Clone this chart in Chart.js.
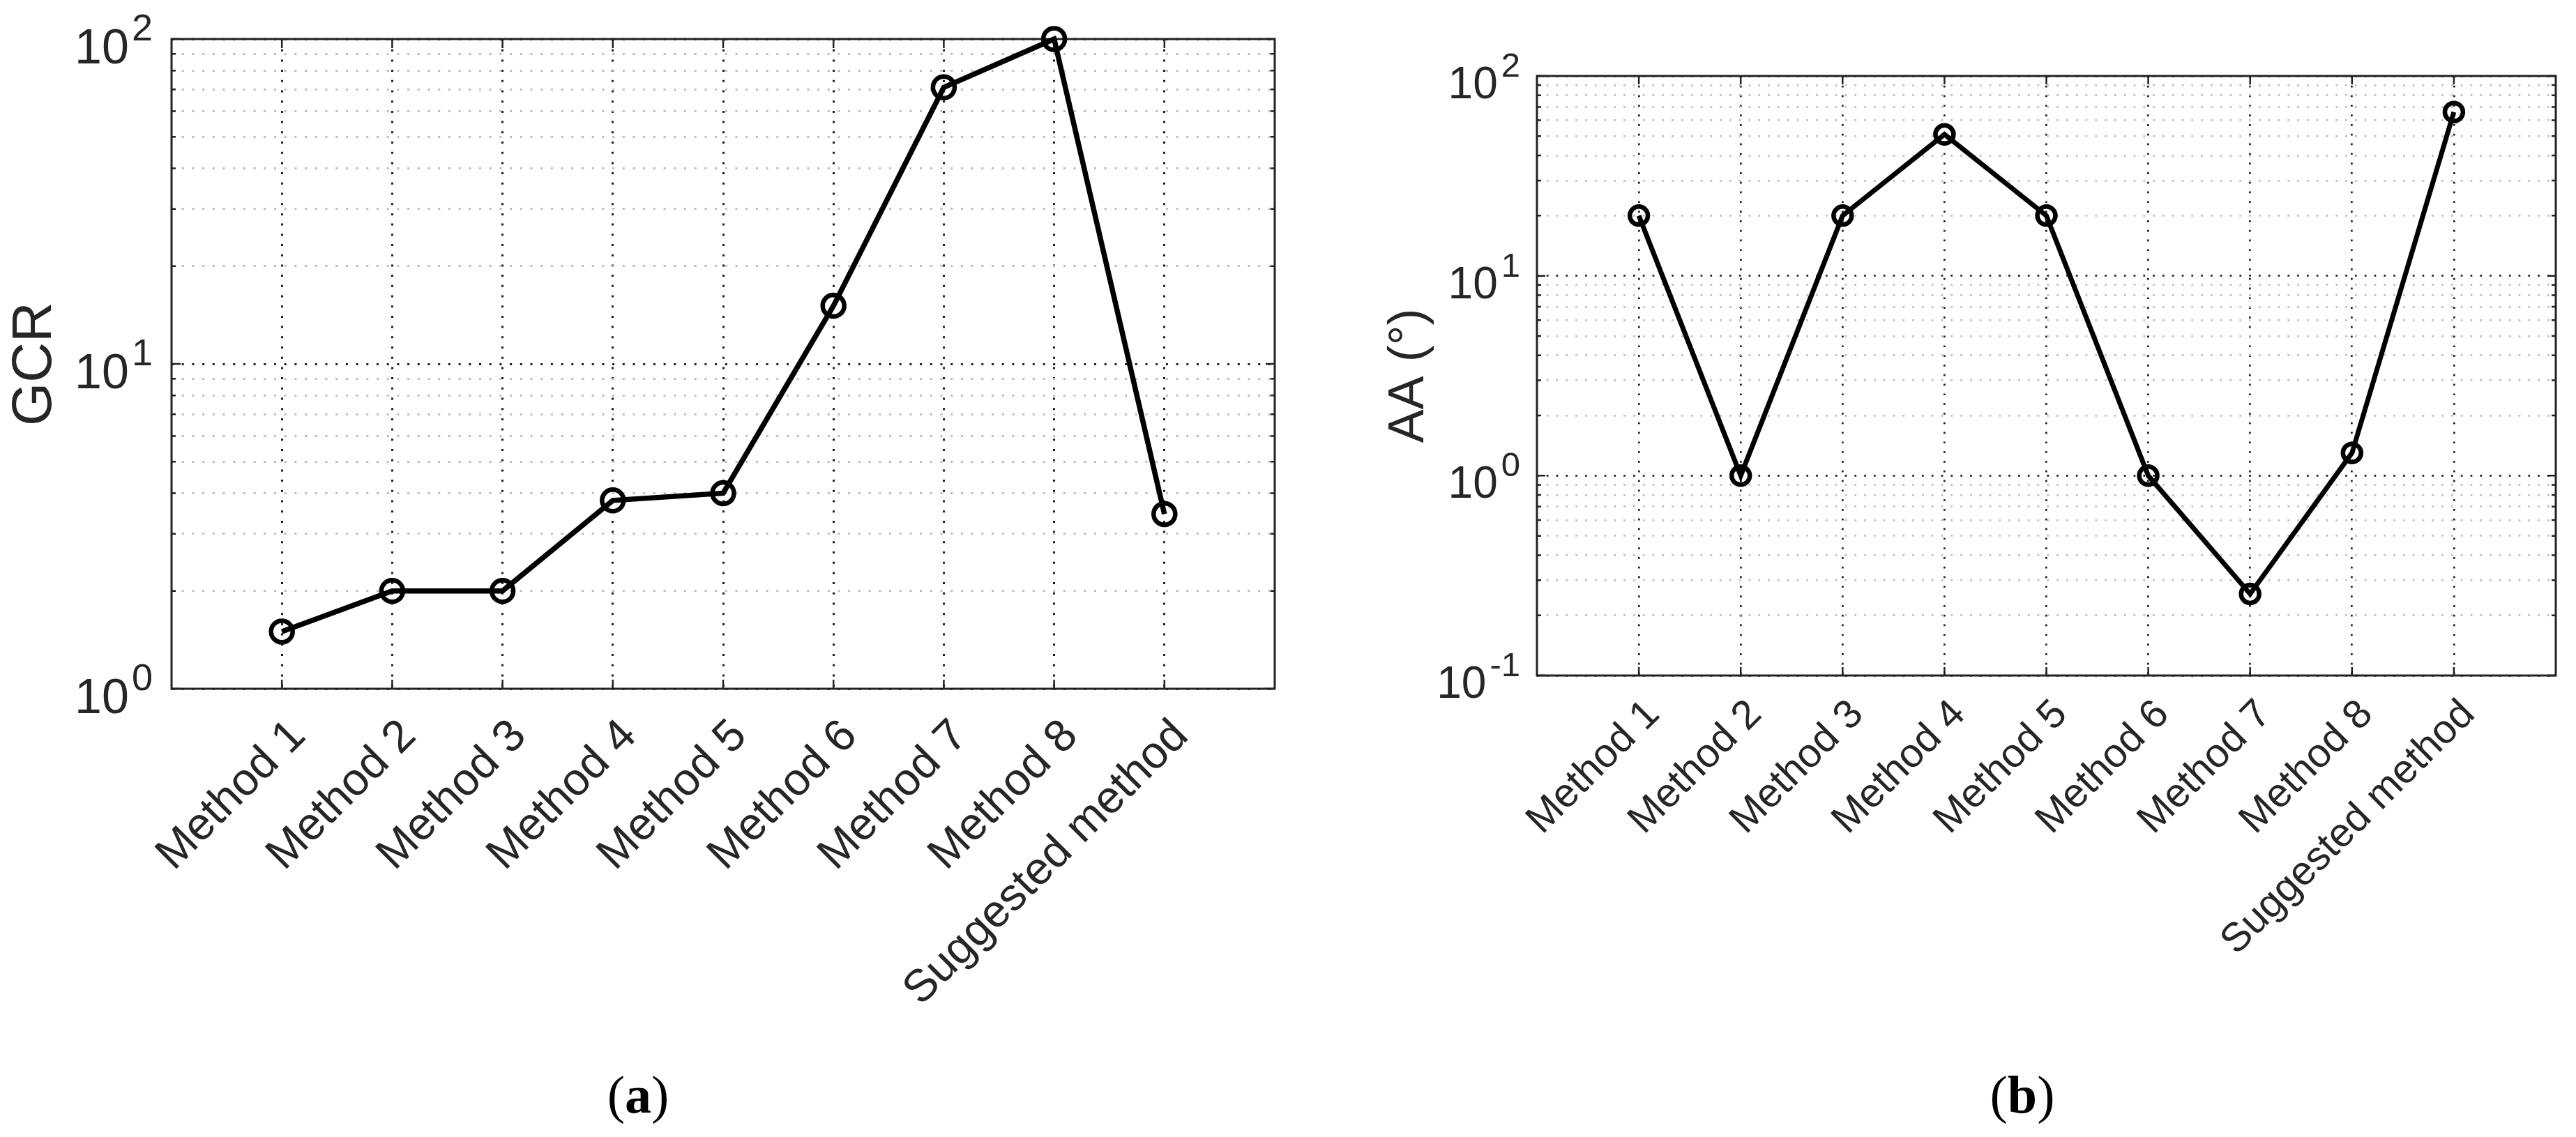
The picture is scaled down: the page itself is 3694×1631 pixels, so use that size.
<!DOCTYPE html>
<html>
<head>
<meta charset="utf-8">
<title>GCR and AA per method</title>
<script src="https://cdn.jsdelivr.net/npm/chart.js@4.4.1/dist/chart.umd.min.js"></script>
<style>
  html, body { margin: 0; padding: 0; background: #fff; }
  body { width: 3694px; height: 1631px; position: relative; overflow: hidden; }
  .panel { position: absolute; top: 0; height: 1500px; }
  #panelA { left: 0; width: 1900px; }
  #panelB { left: 1900px; width: 1794px; }
  .caption {
    position: absolute;
    font-family: "Liberation Serif", "Times New Roman", serif;
    font-size: 76px;
    line-height: 1;
    color: #000;
    transform: translate(-50%, -50%);
    white-space: nowrap;
  }
</style>
</head>
<body>
<div class="panel" id="panelA"><canvas id="chartA"></canvas></div>
<div class="panel" id="panelB"><canvas id="chartB"></canvas></div>
<div class="caption" style="left:915px; top:1570px">(<b>a</b>)</div>
<div class="caption" style="left:2900px; top:1570px">(<b>b</b>)</div>

<script>
// data
const methods = ['Method 1', 'Method 2', 'Method 3', 'Method 4', 'Method 5',
                 'Method 6', 'Method 7', 'Method 8', 'Suggested method'];
const gcrValues = [1.5, 2.0, 2.0, 3.8, 4.0, 15.1, 71, 100, 3.45];
const aaValues = [20, 1.0, 20, 51, 20, 1.0, 0.256, 1.3, 66];

// decade tick labels (10^n)
const gcrExponents = [0, 1, 2];
const aaExponents = [-1, 0, 1, 2];

const gcrTitle = 'GCR';
const aaTitle = 'AA (°)';

const sans = '"Liberation Sans", Arial, Helvetica, sans-serif';
const textColor = '#262626';
Chart.defaults.font.family = sans;
Chart.defaults.color = textColor;

// ticks 1..9 x 10^n for each decade, plus the top decade
function logTicks(exps) {
    const out = [];
    for (let i = 0; i < exps.length - 1; i++) {
        for (let m = 1; m <= 9; m++) {
            out.push({ value: m * Math.pow(10, exps[i]), major: m === 1 });
        }
    }
    out.push({ value: Math.pow(10, exps[exps.length - 1]), major: true });
    return out;
}

// inner tick marks, box and 10^n labels, matlab style
const matlabAxes = {
    id: 'matlabAxes',
    beforeDatasetsDraw(chart, args, o) {
        const { ctx, chartArea: a, scales: { x, y } } = chart;
        ctx.save();
        ctx.strokeStyle = o.color;
        ctx.lineWidth = o.tickWidth;
        ctx.beginPath();
        y.ticks.forEach(t => {
            const py = y.getPixelForValue(t.value);
            const len = t.major ? o.majorLen : o.minorLen;
            ctx.moveTo(a.left, py); ctx.lineTo(a.left + len, py);
            ctx.moveTo(a.right, py); ctx.lineTo(a.right - len, py);
        });
        x.ticks.forEach(t => {
            const px = x.getPixelForValue(t.value);
            ctx.moveTo(px, a.bottom); ctx.lineTo(px, a.bottom - o.majorLen);
            ctx.moveTo(px, a.top); ctx.lineTo(px, a.top + o.majorLen);
        });
        ctx.stroke();

        ctx.lineWidth = o.boxWidth;
        ctx.strokeRect(a.left, a.top, a.right - a.left, a.bottom - a.top);

        ctx.fillStyle = textColor;
        ctx.textAlign = 'right';
        ctx.textBaseline = 'alphabetic';
        o.exponents.forEach(e => {
            const py = y.getPixelForValue(Math.pow(10, e));
            const xr = a.left - o.labelGap;
            const sup = String(e);
            ctx.font = o.supSize + 'px ' + sans;
            const w = ctx.measureText(sup).width;
            ctx.fillText(sup, xr, py + o.supDrop);
            ctx.font = o.baseSize + 'px ' + sans;
            ctx.fillText('10', xr - w - o.supGap, py + o.baseDrop);
        });
        ctx.restore();
    }
};

function makeChart(id, values, exps, title, s) {
    const yMin = Math.pow(10, exps[0]);
    const yMax = Math.pow(10, exps[exps.length - 1]);
    return new Chart(document.getElementById(id), {
        type: 'line',
        data: {
            datasets: [{
                data: values.map((v, i) => ({ x: i + 1, y: v })),
                borderColor: '#000',
                borderWidth: s.lineWidth,
                pointRadius: s.pointRadius,
                pointHoverRadius: s.pointRadius,
                pointBorderWidth: s.pointBorder,
                pointBorderColor: '#000',
                pointBackgroundColor: 'rgba(0,0,0,0)',
                tension: 0,
                fill: false,
                clip: false
            }]
        },
        options: {
            responsive: true,
            maintainAspectRatio: false,
            animation: false,
            events: [],
            layout: { padding: s.padding },
            plugins: {
                legend: { display: false },
                tooltip: { enabled: false },
                matlabAxes: {
                    exponents: exps,
                    color: '#222',
                    tickWidth: 2.5,
                    boxWidth: 3,
                    majorLen: s.majorLen,
                    minorLen: s.minorLen,
                    labelGap: s.labelGap,
                    supGap: s.supGap,
                    baseSize: s.baseSize,
                    supSize: s.supSize,
                    baseDrop: s.baseDrop,
                    supDrop: s.supDrop
                }
            },
            scales: {
                x: {
                    type: 'linear',
                    position: 'bottom',
                    min: 0,
                    max: methods.length + 1,
                    afterBuildTicks: sc => { sc.ticks = methods.map((m, i) => ({ value: i + 1 })); },
                    afterFit: sc => { sc.height = s.xAxisHeight; },
                    grid: { color: '#1e1e1e', lineWidth: s.gridWidth, drawTicks: false, borderDash: s.dash },
                    border: { display: false, dash: s.dash },
                    ticks: {
                        autoSkip: false,
                        minRotation: 45,
                        maxRotation: 45,
                        padding: s.xPad,
                        labelOffset: s.xOffset,
                        font: { size: s.xFont },
                        color: textColor,
                        callback: v => methods[v - 1]
                    }
                },
                y: {
                    type: 'logarithmic',
                    min: yMin,
                    max: yMax,
                    afterBuildTicks: sc => { sc.ticks = logTicks(exps); },
                    afterFit: sc => { sc.width = s.yAxisWidth; },
                    grid: {
                        color: c => (c.tick && c.tick.major) ? '#1e1e1e' : '#bdbdbd',
                        lineWidth: s.gridWidth,
                        drawTicks: false,
                        borderDash: s.dash
                    },
                    border: { display: false, dash: s.dash },
                    ticks: { display: false, autoSkip: false },
                    title: {
                        display: true,
                        text: title,
                        color: textColor,
                        font: { size: s.titleSize },
                        padding: { top: s.titlePad, bottom: 0 }
                    }
                }
            }
        },
        plugins: [matlabAxes]
    });
}

makeChart('chartA', gcrValues, gcrExponents, gcrTitle, {
    padding: { top: 56, right: 72, left: 0, bottom: 0 },
    yAxisWidth: 246, xAxisHeight: 512,
    xFont: 65, xPad: 30, xOffset: 24,
    titleSize: 80, titlePad: 3,
    gridWidth: 3, dash: [3, 11.7],
    baseSize: 70, supSize: 54, labelGap: 27, supGap: 4, baseDrop: 35, supDrop: 2,
    majorLen: 13, minorLen: 6,
    lineWidth: 7.5, pointRadius: 15.5, pointBorder: 6.5
});

makeChart('chartB', aaValues, aaExponents, aaTitle, {
    padding: { top: 109, right: 29, left: 0, bottom: 0 },
    yAxisWidth: 304, xAxisHeight: 531,
    xFont: 58, xPad: 22, xOffset: 21,
    titleSize: 72, titlePad: 78,
    gridWidth: 2.7, dash: [2.7, 11.1],
    baseSize: 64, supSize: 49, labelGap: 24, supGap: 5, baseDrop: 32, supDrop: 1,
    majorLen: 12, minorLen: 6,
    lineWidth: 7, pointRadius: 13, pointBorder: 6.5
});
</script>
</body>
</html>
